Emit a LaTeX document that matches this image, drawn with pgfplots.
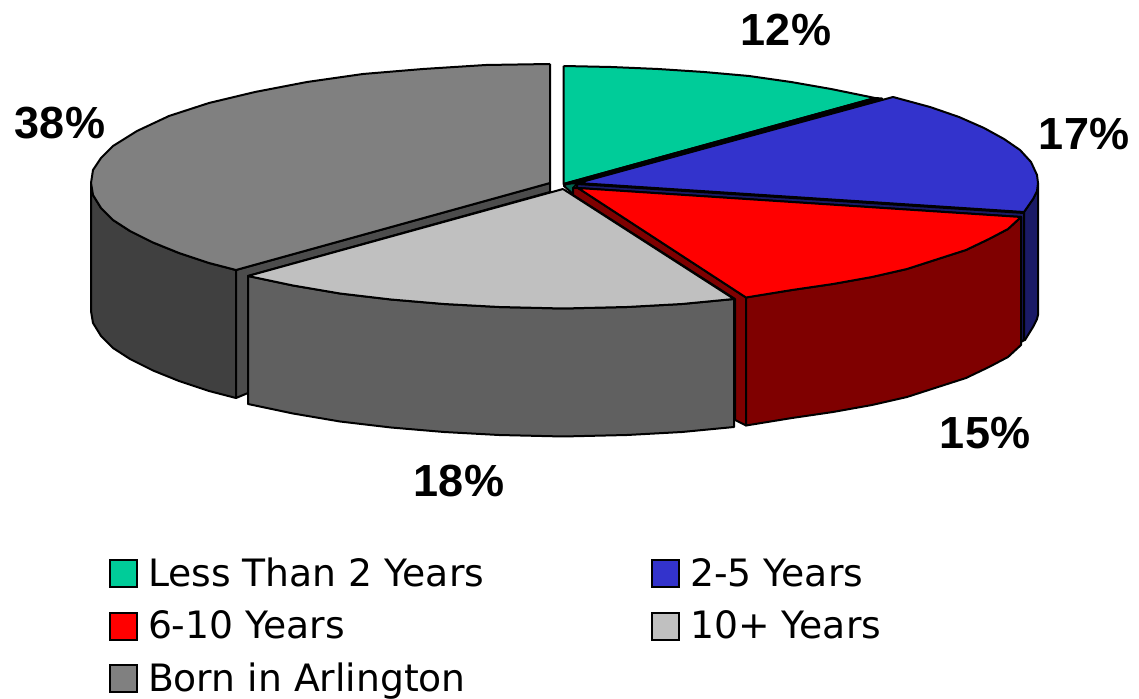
\documentclass[border=0pt]{standalone}
\usepackage{fontspec}
\setmainfont{DejaVu Sans}
\newfontfamily\labelfont[BoldFont={Liberation Sans Bold}]{Liberation Sans}
\usepackage{pgfplots}
\pgfplotsset{compat=1.18}

\definecolor{cgreen}{HTML}{00CC99}
\definecolor{cgreendk}{HTML}{006650}
\definecolor{cblue}{HTML}{3333CC}
\definecolor{cbluedk}{HTML}{1A1A66}
\definecolor{cred}{HTML}{FF0000}
\definecolor{creddk}{HTML}{7F0000}
\definecolor{clight}{HTML}{C0C0C0}
\definecolor{clightdk}{HTML}{606060}
\definecolor{cgray}{HTML}{808080}
\definecolor{cgraydk}{HTML}{404040}
\definecolor{cgraymid}{HTML}{4C4C4C}

\pgfplotsset{
  slice/.style={fill=#1, draw=black, line width=1pt, line join=round, forget plot},
}
\tikzset{
  pct/.style={font=\labelfont\bfseries\fontsize{22.5}{22.5}\selectfont, inner sep=0pt},
}

\begin{document}
\begin{tikzpicture}
\begin{axis}[
  name=pie,
  scale only axis, width=569.5pt, height=349.5pt,
  xmin=0, xmax=1139, ymin=0, ymax=699, y dir=reverse,
  hide axis, clip=false,
  legend columns=2,
  legend cell align=left,
  legend style={
    at={(axis cs:109,554)}, anchor=north west,
    draw=none, fill=none, inner sep=0pt, outer sep=0pt,
    font=\fontsize{18.85}{18.85}\selectfont,
    /tikz/every even column/.append style={column sep=81.5pt},
    row sep=6.6pt,
  },
  legend image code/.code={
    \path[draw=none, fill=none] (0pt,0pt) -- (17pt,0pt);
    \draw[#1, line width=1pt] (0pt,-6.75pt) rectangle (13.5pt,6.75pt);
  },
]
% 38% slice
\addplot[slice=cgraydk] coordinates {(91,183)(93,195)(101,208)(113,220)(130,231)(153,242.5)(179,253)(209,263)(236,270)(236,398)(209,391)(179,381)(153,370.5)(130,359)(113,348)(101,336)(93,323)(91,311)(91,183)};
\addplot[slice=cgraymid] coordinates {(236,270)(550,183)(550,192)(248,276)(248,393)(236,398)(236,270)};
\addplot[slice=cgray] coordinates {(550,64)(486,65)(423,69)(363,74)(307,82)(255,92)(209,103)(169,116)(137,131)(113,146)(101,158)(93,170)(91,183)(93,195)(101,208)(113,220)(130,231)(153,242.5)(179,253)(209,263)(236,270)(550,183)(550,64)};
% 12% slice
\addplot[slice=cgreendk] coordinates {(564,185)(578,181)(575,186)(573,188)(573,194)(564,186)(564,185)};
\addplot[slice=cgreen] coordinates {(563.5,66)(611,67)(658,69)(704,72)(749,76)(791,82)(831,89)(875,98)(563.5,184)(563.5,66)};
\addplot[slice=black] coordinates {(563.5,184)(875,98)(882,98.5)(578,183)(563.5,184)};
% 17% slice
\addplot[slice=cbluedk] coordinates {(1024,212)(1033,199)(1037,191)(1038,183)(1038,315)(1037,319)(1033,327)(1025,340)(1022,341)(1024,212)};
\addplot[slice=cbluedk] coordinates {(577,184)(1024,213)(1024,340)(1021,342)(1021,217)(577,188)(577,184)};
\addplot[slice=cblue] coordinates {(578,183)(893,97)(930,107)(959,117)(984,128)(1004,139)(1020,150)(1031,162)(1037,175)(1038,183)(1037,191)(1033,199)(1024,212)(578,183)};
% 15% slice
\addplot[slice=creddk] coordinates {(573,188)(578,188)(746,297.5)(746,425.5)(735,420)(735,299)(573,195)(573,188)};
\addplot[slice=creddk] coordinates {(746,297.5)(792,290)(833,284)(872,277)(907,269)(938,259)(966,250)(989,239)(1008,229)(1021,217)(1021,345)(1008,357)(989,367)(966,378)(938,387)(907,397)(872,405)(833,412)(792,418)(746,425.5)(746,297.5)};
\addplot[slice=cred] coordinates {(578,188)(1021,217)(1008,229)(989,239)(966,250)(938,259)(907,269)(872,277)(833,284)(792,290)(746,297.5)(578,188)};
% 18% slice
\addplot[slice=clightdk] coordinates {(248,276)(293,285.5)(340,293.5)(391,299.5)(444,304)(499,307)(563,308.5)(627,307)(682,304)(734,299)(734,427)(682,432)(627,435)(563,436.5)(499,435)(444,432)(391,427.5)(340,421.5)(293,413.5)(248,404)(248,276)};
\addplot[slice=clight] coordinates {(563,189)(734,299)(682,304)(627,307)(563,308.5)(499,307)(444,304)(391,299.5)(340,293.5)(293,285.5)(248,276)(563,189)};

\addlegendimage{fill=cgreen, draw=black}
\addlegendentry{Less Than 2 Years}
\addlegendimage{fill=cblue, draw=black}
\addlegendentry{2-5 Years}
\addlegendimage{fill=cred, draw=black}
\addlegendentry{6-10 Years}
\addlegendimage{fill=clight, draw=black}
\addlegendentry{10+ Years}
\addlegendimage{fill=cgray, draw=black}
\addlegendentry{Born in Arlington}

\node[pct] at (axis cs:786,30) {12\%};
\node[pct] at (axis cs:1084,134) {17\%};
\node[pct] at (axis cs:985,433) {15\%};
\node[pct] at (axis cs:459,481) {18\%};
\node[pct] at (axis cs:60,123) {38\%};
\end{axis}
\path[use as bounding box] (pie.south west) rectangle (pie.north east);
\end{tikzpicture}
\end{document}
